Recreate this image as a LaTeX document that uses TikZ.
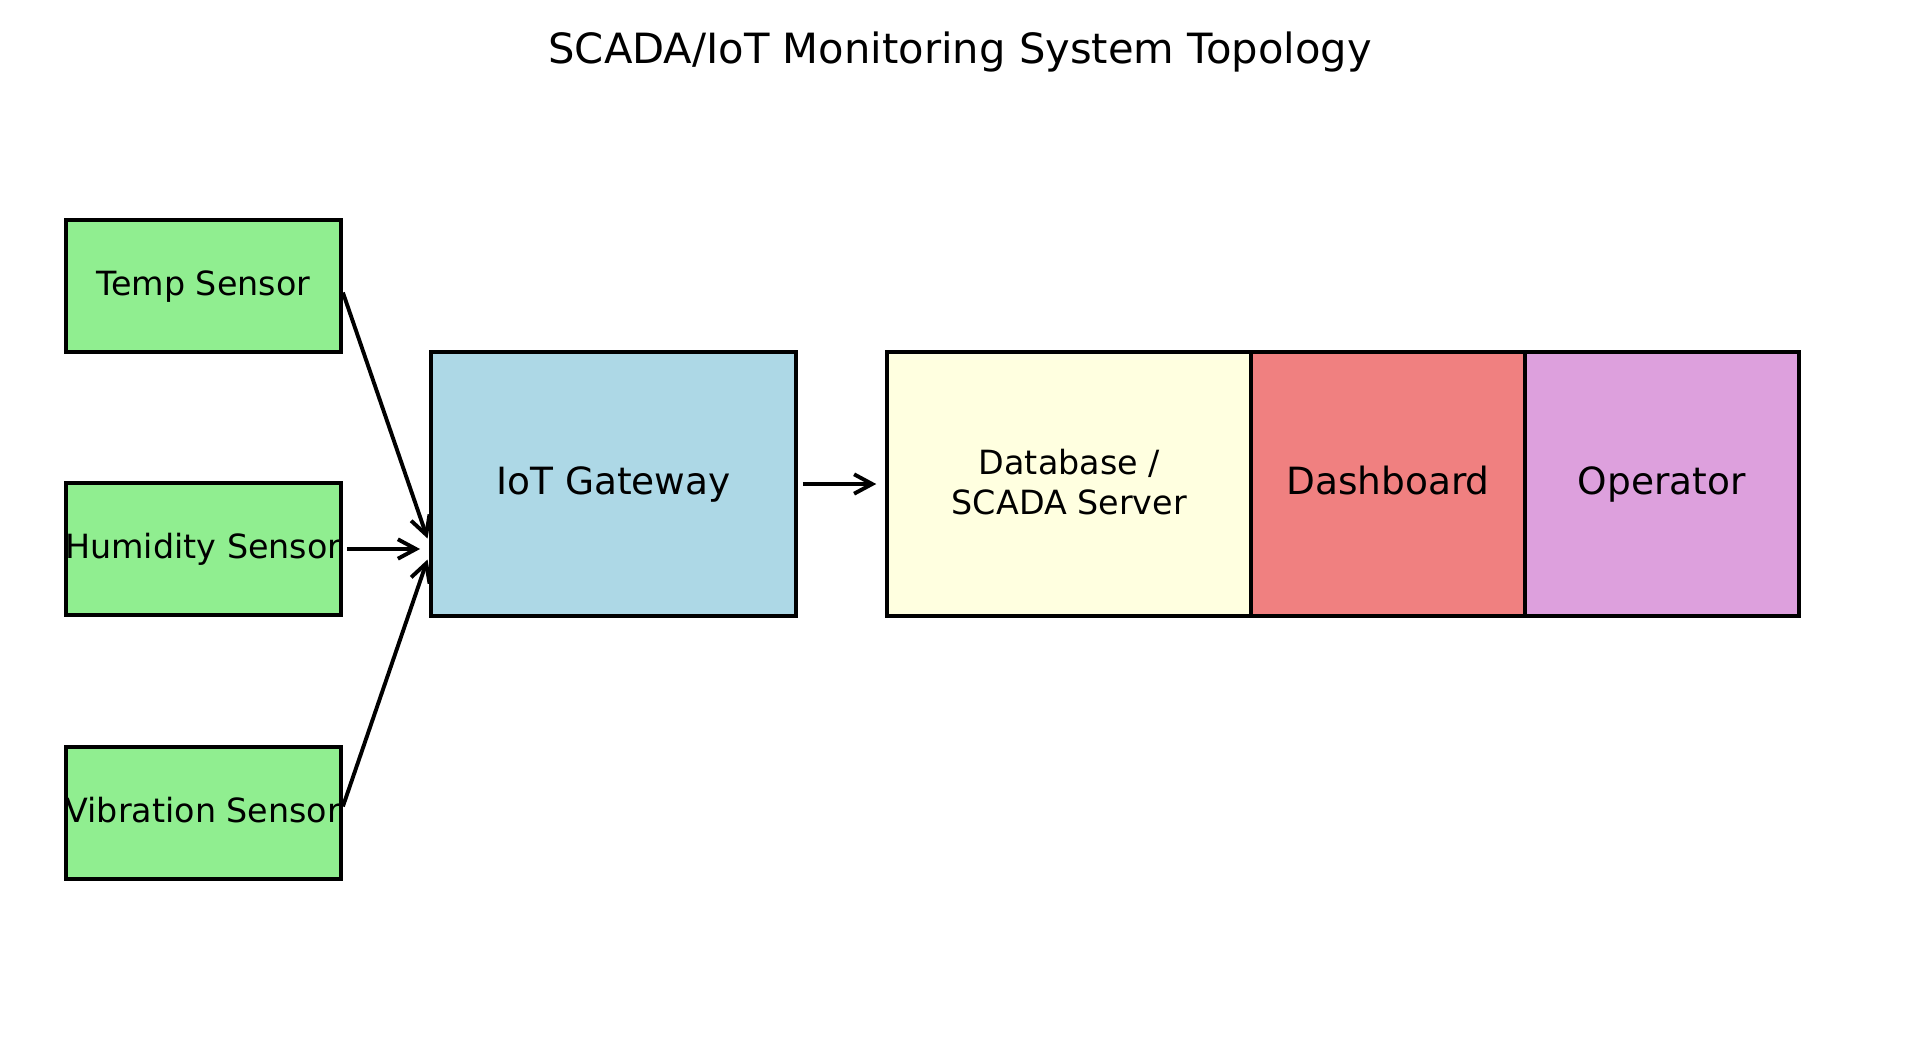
\documentclass[tikz,border=0pt]{standalone}
\usepackage{fontspec}
\setmainfont{DejaVu Sans}
\usetikzlibrary{arrows.meta}

\definecolor{sensorfill}{HTML}{90EE90}
\definecolor{gatewayfill}{HTML}{ADD8E6}
\definecolor{serverfill}{HTML}{FFFFE0}
\definecolor{dashfill}{HTML}{F08080}
\definecolor{operfill}{HTML}{DDA0DD}

\tikzset{
  box/.style={draw, line width=1.4pt, inner sep=0pt, outer sep=0pt, minimum height=95pt},
  big/.style={font=\fontsize{13.5}{16.2}\selectfont, text height=0.86em, text depth=0.14em},
  sensor/.style={box, fill=sensorfill, minimum width=98.9pt, minimum height=47.4pt,
    font=\fontsize{12}{14.4}\selectfont, text height=0.84em, text depth=0.16em,
    execute at begin node={\hbox to 0pt\bgroup\hss}, execute at end node={\hss\egroup}},
  link/.style={-{Straight Barb[length=6.5pt,width=7pt]}, line width=1.4pt},
}

\begin{document}
\begin{tikzpicture}[x=0.36pt, y=-0.36pt]
    \useasboundingbox (0,0) rectangle (1919,1042);

    \node[anchor=base, font=\fontsize{15}{18}\selectfont] (title) at (960,63) {SCADA/IoT Monitoring System Topology};

    % sensors
    \node[sensor] (temp) at (203.3,286) {Temp Sensor};
    \node[sensor] (hum) at (203.3,549) {Humidity Sensor};
    \node[sensor] (vib) at (203.3,813) {Vibration Sensor};

    % gateway and back end
    \node[box, big, fill=gatewayfill, minimum width=131.3pt] (gw) at (613.5,484) {IoT Gateway};
    \node[box, fill=serverfill, minimum width=131pt, align=center,
      font=\fontsize{12}{14.4}\selectfont] (db) at (1069.3,484) {Database /\\SCADA Server\rule[-1.8pt]{0pt}{1pt}};
    \node[box, big, fill=dashfill, minimum width=98.4pt] (dash) at (1388,484) {Dashboard};
    \node[box, big, fill=operfill, minimum width=98.6pt] (oper) at (1661.7,484) {Operator};

    \coordinate (hit) at (gw.west |- hum.east);

    \draw[link, shorten <=2.5pt, shorten >=4pt] (temp.east) -- (hit);
    \draw[link, shorten <=2.2pt, shorten >=4pt] (hum.east) -- (hit);
    \draw[link, shorten <=2.5pt, shorten >=4pt] (vib.east) -- (hit);
    \draw[link, shorten <=2.5pt, shorten >=4pt] (gw.east) -- (db.west);

  \end{tikzpicture}
\end{document}
